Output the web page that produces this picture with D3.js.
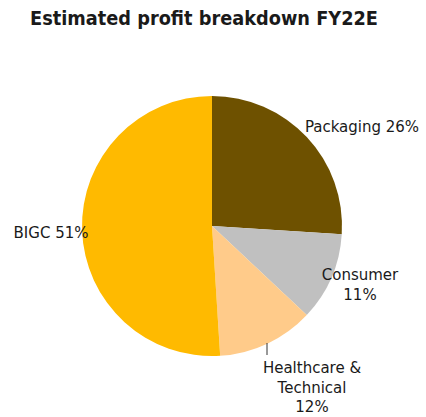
<!DOCTYPE html>
<html>
<head>
<meta charset="utf-8">
<script src="https://cdn.jsdelivr.net/npm/d3@7"></script>
<style>
  body { margin: 0; background: #fff; }
  text { font-family: "DejaVu Sans", sans-serif; fill: #1a1a1a; }
</style>
</head>
<body>
<div id="chart"></div>
<script>
var segments = ["Packaging", "Consumer", "Healthcare & Technical", "BIGC"];
var shares = [26, 11, 12, 51];
var colors = ["#6e5100", "#c0c0c0", "#ffcb8a", "#ffba00"];
var labelLines = [["Packaging 26%"], ["Consumer", "11%"], ["Healthcare &", "Technical", "12%"], ["BIGC 51%"]];

var width = 426, height = 417;
var cx = 212, cy = 226, radius = 130;

var svg = d3.select("#chart").append("svg")
  .attr("width", width).attr("height", height);

svg.append("text")
  .attr("x", 30).attr("y", 25)
  .style("font-weight", "bold").style("font-size", "19px")
  .attr("textLength", 348).attr("lengthAdjust", "spacingAndGlyphs")
  .text("Estimated profit breakdown FY22E");

var pie = d3.pie().sort(null).value(function(d) { return d; });
var arc = d3.arc().innerRadius(0).outerRadius(radius);
var arcs = pie(shares);

var g = svg.append("g").attr("transform", "translate(" + cx + "," + cy + ")");

g.selectAll("path").data(arcs).enter().append("path")
  .attr("d", arc)
  .attr("fill", function(d, i) { return colors[i]; });

// label anchors relative to the centre (placed by hand like the source chart)
var labelPos = [[150, -94], [148, 54], [100, 147], [-161, 12]];
var lineH = 19.5;

var labels = g.selectAll("text.lbl").data(arcs).enter().append("text")
  .attr("class", "lbl")
  .attr("text-anchor", "middle")
  .style("font-size", "15px")
  .attr("transform", function(d, i) { return "translate(" + labelPos[i][0] + "," + labelPos[i][1] + ")"; });

labels.selectAll("tspan").data(function(d, i) { return labelLines[i]; }).enter().append("tspan")
  .attr("x", 0)
  .attr("y", function(d, j) { return j * lineH; })
  .text(function(d) { return d; });

// leader line for Healthcare & Technical
g.append("line")
  .attr("x1", 55).attr("y1", 117)
  .attr("x2", 55).attr("y2", 129)
  .attr("stroke", "#333").attr("stroke-width", 1);
</script>
</body>
</html>
